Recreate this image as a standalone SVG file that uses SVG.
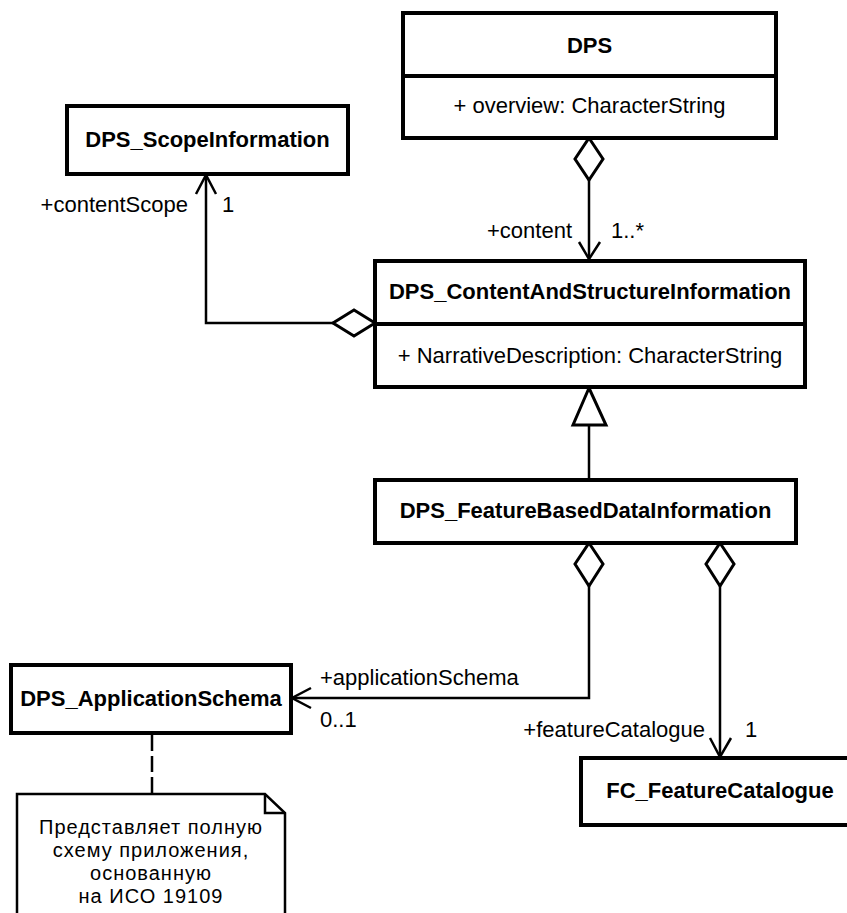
<svg xmlns="http://www.w3.org/2000/svg" width="847" height="913" viewBox="0 0 847 913">
<style>
.box{fill:#fff;stroke:#000;stroke-width:4}
.div{stroke:#000;stroke-width:4}
.t{font-family:"Liberation Sans",Arial,sans-serif;font-size:22px;fill:#000}
.b{font-weight:bold;text-anchor:middle}
.m{text-anchor:middle}
.e{text-anchor:end}
.nt{font-size:20px;letter-spacing:1px}
.ln{fill:none;stroke:#000;stroke-width:2.5}
.dia{fill:#fff;stroke:#000;stroke-width:3}
.note{fill:#fff;stroke:#000;stroke-width:2.5}
</style>
<rect width="847" height="913" fill="#fff"/>
<g id="connectors">
  <polyline class="ln" points="589,180 589,258"/>
  <polyline class="ln" points="579,242 589,259 600,242"/>
  <polygon class="dia" points="589,138 603,159 589,180 575,159"/>
  <polyline class="ln" points="333,323 206,323 206,176"/>
  <polyline class="ln" points="196,194 206,175 216,194"/>
  <polygon class="dia" points="375,323 354,310 333,323 354,336"/>
  <polyline class="ln" points="589,425 589,480"/>
  <polygon class="dia" points="589,388 573,425 606,425"/>
  <polyline class="ln" points="589,586 589,698 292,698"/>
  <polyline class="ln" points="311,688 292,698 311,708"/>
  <polygon class="dia" points="589,543 603,564 589,586 575,564"/>
  <polyline class="ln" points="720,586 720,757"/>
  <polyline class="ln" points="710,738 720,757 731,738"/>
  <polygon class="dia" points="720,543 734,564 720,586 706,564"/>
  <line class="ln" x1="152" y1="735" x2="152" y2="794" stroke-dasharray="16,5"/>
  <text class="t e" x="188" y="212">+contentScope</text>
  <text class="t" x="222" y="212">1</text>
  <text class="t e" x="572" y="238">+content</text>
  <text class="t" x="611" y="238">1..*</text>
  <text class="t" x="320" y="685">+applicationSchema</text>
  <text class="t" x="320" y="727">0..1</text>
  <text class="t e" x="705" y="737">+featureCatalogue</text>
  <text class="t" x="745" y="737">1</text>
</g>
<g id="DPS">
  <rect class="box" x="403" y="13" width="373" height="125"/>
  <line class="div" x1="403" y1="76" x2="776" y2="76"/>
  <text class="t b" x="589.5" y="53">DPS</text>
  <text class="t m" x="589.5" y="113">+ overview: CharacterString</text>
</g>
<g id="DPS_ScopeInformation">
  <rect class="box" x="67" y="106" width="281" height="68"/>
  <text class="t b" x="207.5" y="147">DPS_ScopeInformation</text>
</g>
<g id="DPS_ContentAndStructureInformation">
  <rect class="box" x="375" y="261" width="430" height="126"/>
  <line class="div" x1="375" y1="324" x2="805" y2="324"/>
  <text class="t b" x="590" y="299">DPS_ContentAndStructureInformation</text>
  <text class="t m" x="590" y="363">+ NarrativeDescription: CharacterString</text>
</g>
<g id="DPS_FeatureBasedDataInformation">
  <rect class="box" x="375" y="480" width="421" height="63"/>
  <text class="t b" x="585.5" y="518">DPS_FeatureBasedDataInformation</text>
</g>
<g id="DPS_ApplicationSchema">
  <rect class="box" x="11" y="665" width="280" height="68"/>
  <text class="t b" x="151" y="706">DPS_ApplicationSchema</text>
</g>
<g id="FC_FeatureCatalogue">
  <rect class="box" x="581" y="758" width="279" height="67"/>
  <text class="t b" x="720" y="798">FC_FeatureCatalogue</text>
</g>
<g id="note">
  <path class="note" d="M17,794 L265,794 L285,813 L285,925 L17,925 Z"/>
  <polyline class="ln" points="265,794 265,813 285,813" stroke-width="1.5"/>
  <text class="t m nt" x="151" y="834">Представляет полную</text>
  <text class="t m nt" x="151" y="857">схему приложения,</text>
  <text class="t m nt" x="151" y="880">основанную</text>
  <text class="t m nt" x="151" y="903">на ИСО 19109</text>
</g>
</svg>
